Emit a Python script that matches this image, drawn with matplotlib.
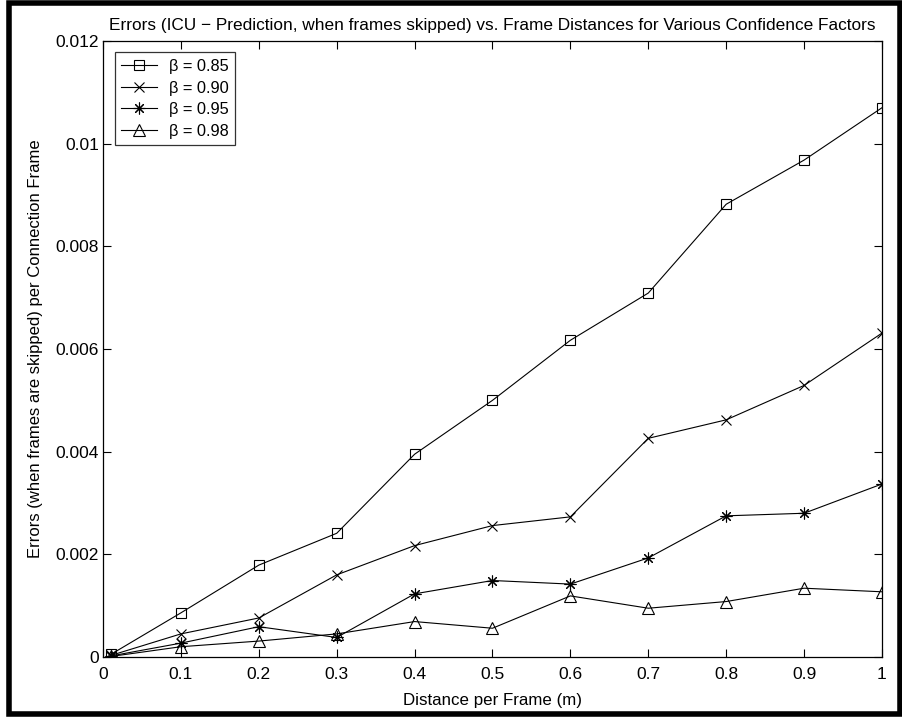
import numpy as np
import matplotlib.pyplot as plt
from matplotlib.patches import Rectangle

plt.rcParams['font.family'] = ['Liberation Sans', 'DejaVu Sans']

# distance per frame (m)
dist = [0.01, 0.1, 0.2, 0.3, 0.4, 0.5, 0.6, 0.7, 0.8, 0.9, 1.0]

# errors per connection frame for each confidence factor
err_085 = [0.00005, 0.00086, 0.00179, 0.00241, 0.00395, 0.00500, 0.00617, 0.00709, 0.00882, 0.00968, 0.01070]
err_090 = [0.00003, 0.00045, 0.00076, 0.00160, 0.00217, 0.00256, 0.00273, 0.00426, 0.00462, 0.00529, 0.00631]
err_095 = [0.00002, 0.00027, 0.00059, 0.00038, 0.00123, 0.00149, 0.00142, 0.00193, 0.00275, 0.00280, 0.00337]
err_098 = [0.00001, 0.00020, 0.00031, 0.00045, 0.00069, 0.00056, 0.00119, 0.00095, 0.00108, 0.00134, 0.00127]

labels = ['\u03b2 = 0.85', '\u03b2 = 0.90', '\u03b2 = 0.95', '\u03b2 = 0.98']
# square, cross, 8-spoke asterisk, triangle
markers = ['s', 'x', (8, 2, 0), '^']
sizes = [6.5, 6.5, 8.5, 8]
series = [err_085, err_090, err_095, err_098]

fig = plt.figure(figsize=(9.03, 7.17), dpi=100)
ax = fig.add_axes([0.1141, 0.0837, 0.8626, 0.8591])

for ys, m, ms, lab in zip(series, markers, sizes, labels):
    ax.plot(dist, ys, color='black', lw=0.8, marker=m, ms=ms,
            mfc='none', mec='black', mew=0.8, label=lab)

ax.set_xlim(0, 1)
ax.set_ylim(0, 0.012)
ax.set_xticks(np.arange(0, 1.01, 0.1))
ax.set_xticklabels(['0', '0.1', '0.2', '0.3', '0.4', '0.5', '0.6', '0.7', '0.8', '0.9', '1'])
ax.set_yticks(np.arange(0, 0.0121, 0.002))
ax.set_yticklabels(['0', '0.002', '0.004', '0.006', '0.008', '0.01', '0.012'])
ax.tick_params(direction='in', length=6, width=0.8, top=True, right=True,
               labelsize=12.5)
ax.tick_params(axis='x', pad=7)
ax.tick_params(axis='y', pad=3)
for s in ax.spines.values():
    s.set_linewidth(0.9)

ax.set_title('Errors (ICU \u2212 Prediction, when frames skipped) vs. Frame Distances for Various Confidence Factors',
             fontsize=12.4, pad=8)
ax.set_xlabel('Distance per Frame (m)', fontsize=12.2, labelpad=8)
ax.set_ylabel('Errors (when frames are skipped) per Connection Frame', fontsize=12, labelpad=9)

leg = ax.legend(loc='upper left', fontsize=11.8, frameon=True, fancybox=False,
                edgecolor='black', borderaxespad=0.7, handlelength=2.2,
                labelspacing=0.4, borderpad=0.4, handletextpad=0.7)
leg.get_frame().set_linewidth(0.9)

# heavy black frame around the whole figure
fig.patches.append(Rectangle((9.5 / 903, 3 / 717), 891 / 903, 711 / 717,
                             transform=fig.transFigure, fill=False,
                             edgecolor='black', lw=4))

fig.savefig('out.png', dpi=100)
